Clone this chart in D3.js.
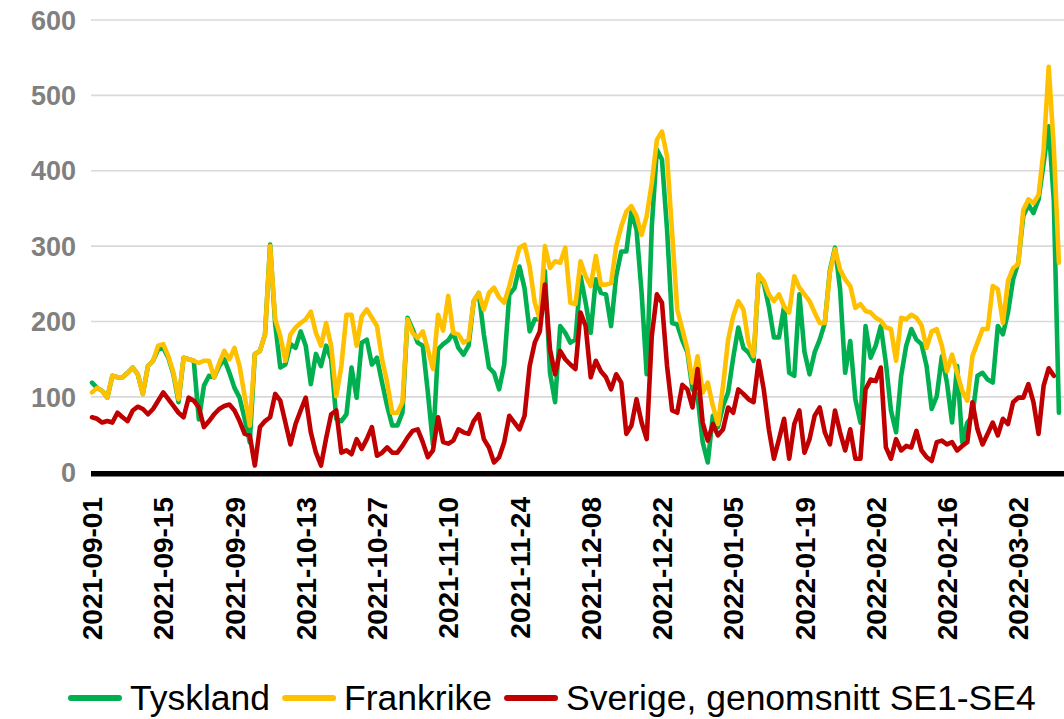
<!DOCTYPE html>
<html>
<head>
<meta charset="utf-8">
<script src="https://cdnjs.cloudflare.com/ajax/libs/d3/7.8.5/d3.min.js"></script>
<style>
  html, body { margin: 0; padding: 0; background: #fff; }
  svg { display: block; font-family: "Liberation Sans", Arial, sans-serif; }
</style>
</head>
<body>
<div id="chart"></div>
<script>
'use strict';

// daily prices, one value per day starting at startDate
const startDate = '2021-09-01';
const endDate = '2022-03-11';

const tyskland = [
    119, 112, 108, 99, 128, 126, 126, 132, 139, 130, 104, 141, 148, 163, 165, 152, 130, 93, 152, 150,
    148, 70, 115, 128, 126, 141, 150, 132, 112, 99, 71, 40, 157, 161, 183, 302, 196, 139, 143, 170,
    165, 187, 168, 117, 157, 141, 168, 150, 71, 68, 77, 139, 99, 172, 176, 143, 152, 119, 88, 62,
    62, 79, 205, 190, 172, 168, 106, 37, 163, 170, 175, 185, 165, 156, 168, 227, 238, 183, 139, 132,
    110, 143, 236, 244, 273, 244, 187, 203, 203, 267, 132, 93, 194, 185, 172, 176, 260, 225, 185, 256,
    238, 236, 194, 260, 293, 293, 346, 322, 238, 130, 326, 428, 415, 322, 198, 196, 175, 159, 110, 101,
    40, 13, 75, 60, 88, 106, 152, 192, 165, 159, 148, 262, 251, 220, 179, 179, 220, 132, 128, 236,
    160, 130, 159, 176, 198, 268, 298, 243, 132, 174, 97, 66, 194, 152, 168, 194, 145, 82, 53, 128,
    168, 190, 176, 170, 141, 84, 101, 154, 119, 66, 141, 40, 66, 75, 128, 132, 123, 119, 194, 183,
    212, 256, 278, 340, 355, 344, 362, 410, 459, 360, 79
];

const frankrike = [
    106, 112, 108, 99, 128, 126, 126, 132, 139, 130, 104, 141, 148, 168, 170, 154, 132, 97, 152, 150,
    148, 145, 148, 148, 126, 145, 161, 150, 165, 141, 101, 62, 157, 161, 183, 300, 203, 181, 148, 183,
    192, 198, 203, 213, 185, 168, 198, 168, 101, 141, 209, 209, 168, 207, 216, 205, 194, 150, 119, 79,
    79, 93, 203, 185, 178, 187, 163, 137, 209, 188, 234, 185, 183, 172, 176, 227, 238, 216, 238, 245,
    232, 225, 247, 273, 298, 302, 273, 225, 203, 300, 271, 280, 278, 298, 225, 223, 280, 260, 247, 287,
    249, 249, 251, 300, 326, 346, 353, 340, 315, 340, 384, 441, 452, 419, 317, 216, 190, 163, 119, 154,
    106, 119, 88, 64, 115, 176, 207, 227, 216, 172, 154, 262, 254, 236, 227, 236, 220, 212, 260, 245,
    236, 227, 212, 198, 198, 265, 296, 269, 256, 247, 218, 223, 214, 212, 205, 201, 192, 190, 148, 205,
    203, 209, 205, 195, 165, 187, 190, 168, 134, 156, 132, 108, 95, 154, 172, 190, 190, 247, 243, 198,
    254, 271, 276, 348, 362, 357, 368, 428, 538, 430, 278
];

const sverige = [
    73, 71, 66, 68, 66, 79, 73, 68, 82, 87, 84, 77, 84, 95, 106, 97, 88, 79, 73, 99,
    95, 86, 60, 68, 77, 84, 88, 90, 82, 68, 51, 49, 9, 60, 68, 73, 104, 95, 66, 37,
    64, 82, 99, 53, 26, 9, 45, 77, 82, 26, 29, 24, 44, 31, 44, 60, 22, 26, 33, 26,
    26, 35, 46, 55, 57, 40, 20, 29, 73, 40, 38, 42, 57, 53, 51, 68, 77, 44, 33, 13,
    20, 40, 75, 66, 57, 75, 141, 172, 187, 249, 163, 130, 161, 150, 143, 137, 212, 194, 126, 148,
    134, 126, 110, 130, 119, 51, 62, 97, 66, 44, 181, 236, 225, 141, 82, 79, 116, 110, 86, 137,
    66, 42, 64, 49, 57, 86, 79, 110, 104, 97, 93, 148, 110, 57, 18, 44, 71, 18, 64, 82,
    26, 44, 75, 86, 53, 37, 82, 53, 29, 57, 18, 18, 110, 123, 121, 139, 33, 18, 44, 29,
    35, 33, 55, 29, 20, 15, 40, 42, 37, 40, 29, 35, 40, 93, 57, 37, 51, 66, 49, 71,
    64, 93, 99, 99, 117, 93, 51, 115, 138, 128
];

const tickLabels = [
    '2021-09-01', '2021-09-15', '2021-09-29', '2021-10-13', '2021-10-27', '2021-11-10', '2021-11-24',
    '2021-12-08', '2021-12-22', '2022-01-05', '2022-01-19', '2022-02-02', '2022-02-16', '2022-03-02'
];
const yTicks = [0, 100, 200, 300, 400, 500, 600];

const seriesNames = ['Tyskland', 'Frankrike', 'Sverige, genomsnitt SE1-SE4'];
const seriesColors = ['#00b050', '#ffc000', '#c00000'];

const width = 1064, height = 719;
const margin = {top: 20, right: 0, bottom: 246, left: 92};

const parseDate = d3.timeParse('%Y-%m-%d');
const start = parseDate(startDate);

const svg = d3.select('#chart').append('svg')
    .attr('width', width)
    .attr('height', height);

const x = d3.scaleTime()
    .domain([start, parseDate(endDate)])
    .range([margin.left, width - margin.right]);

const y = d3.scaleLinear()
    .domain([0, 600])
    .range([height - margin.bottom - 0.7, margin.top]);

// gridlines
svg.append('g')
    .selectAll('line')
    .data(yTicks.filter(d => d > 0))
    .enter().append('line')
    .attr('x1', margin.left - 1)
    .attr('x2', width)
    .attr('y1', d => y(d))
    .attr('y2', d => y(d))
    .attr('stroke', '#d9d9d9')
    .attr('stroke-width', 1.6);

// y labels
svg.append('g')
    .selectAll('text')
    .data(yTicks)
    .enter().append('text')
    .attr('x', 76)
    .attr('y', d => y(d))
    .attr('dy', '0.36em')
    .attr('text-anchor', 'end')
    .attr('font-size', 27)
    .attr('font-weight', 'bold')
    .attr('fill', '#808080')
    .text(d => d);

// series
const line = d3.line()
    .x((d, i) => x(d3.timeDay.offset(start, i)))
    .y(d => y(d));

[tyskland, frankrike, sverige].forEach((values, k) => {
    svg.append('path')
        .datum(values)
        .attr('d', line)
        .attr('fill', 'none')
        .attr('stroke', seriesColors[k])
        .attr('stroke-width', 4.6)
        .attr('stroke-linejoin', 'round')
        .attr('stroke-linecap', 'round');
});

// x axis line
svg.append('line')
    .attr('x1', margin.left - 1)
    .attr('x2', width)
    .attr('y1', y(0) + 1.4)
    .attr('y2', y(0) + 1.4)
    .attr('stroke', '#000')
    .attr('stroke-width', 5.5);

// x tick labels, rotated
svg.append('g')
    .selectAll('text')
    .data(tickLabels)
    .enter().append('text')
    .attr('transform', d => `translate(${x(parseDate(d))},497) rotate(-90)`)
    .attr('dy', '0.36em')
    .attr('text-anchor', 'end')
    .attr('font-size', 28)
    .attr('font-weight', 'bold')
    .attr('fill', '#000')
    .text(d => d);

// legend
const legend = svg.append('g');
let lx = 68;
const ly = 698;
seriesNames.forEach((name, k) => {
    legend.append('line')
        .attr('x1', lx + 3)
        .attr('x2', lx + 51)
        .attr('y1', ly)
        .attr('y2', ly)
        .attr('stroke', seriesColors[k])
        .attr('stroke-width', 6)
        .attr('stroke-linecap', 'round');
    const t = legend.append('text')
        .attr('x', lx + 62)
        .attr('y', ly + 12)
        .attr('font-size', 35.5)
        .attr('fill', '#000')
        .text(name);
    lx += 62 + t.node().getComputedTextLength() + 12;
});
</script>
</body>
</html>
